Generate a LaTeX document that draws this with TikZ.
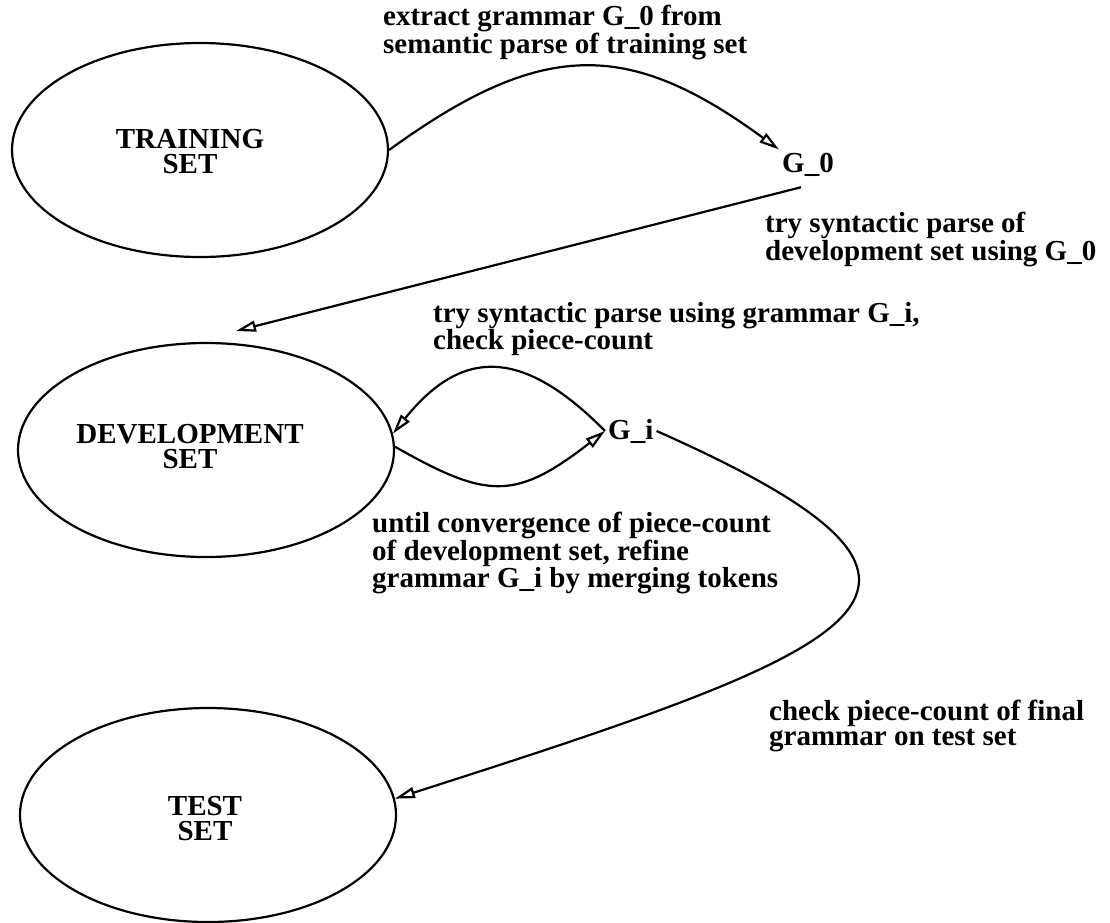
\documentclass[tikz,border=0pt]{standalone}
\usepackage{fontspec}
\setmainfont{Liberation Serif}
\usetikzlibrary{shapes.geometric,arrows.meta}
\begin{document}
\begin{tikzpicture}[x=1pt,y=-1pt,
  every node/.style={font=\fontsize{29}{25}\selectfont\bfseries},
  setnode/.style={ellipse, draw, line width=2.2pt, minimum width=376pt, minimum height=214pt, inner sep=0pt},
  setname/.style={align=center, anchor=north, inner sep=0pt},
  caption/.style={align=left, anchor=north west, inner sep=0pt},
  gram/.style={inner sep=3pt, anchor=base west},
  link/.style={line width=2.2pt, -{Triangle[open, length=20pt, width=11pt]}}
]
\useasboundingbox (0,0) rectangle (1110,922);

% the three data sets
\node[setnode] (train) at (200,150) {};
\node[setname] (trainname) at (190,129) {TRAINING\\SET};
\node[setnode] (dev) at (206,450) {};
\node[setname] (devname) at (190,424) {DEVELOPMENT\\SET};
\node[setnode] (test) at (208,815) {};
\node[setname] (testname) at (205,796) {TEST\\SET};

% grammars
\node[gram] (g0) at (779,172) {G\_0};
\node[gram] (gi) at (605,439) {G\_i};

% edge labels
\node[caption] (lblextract) at (383,5) {extract grammar G\_0 from\\semantic parse of training set};
\node[caption] (lbltry) at (765,212) {try syntactic parse of\\development set using G\_0};
\node[caption] (lblcheck) at (433,302) {try syntactic parse using grammar G\_i,\\check piece-count};
\node[caption] (lblrefine) at (372,512) {until convergence of piece-count\\of development set, refine\\grammar G\_i by merging tokens};
\node[caption] (lblfinal) at (769,700) {check piece-count of final\\grammar on test set};

% connectors
\coordinate (g0out) at ([xshift=-7pt,yshift=-8pt]g0.south);
\coordinate (devin) at (236,331);
\draw[link] (train.east) .. controls (542,39) and (628,39) .. (g0.north west);
\draw[link] (g0out) -- (devin);
\draw[link] (gi.west) .. controls (520,345) and (460,350) .. (dev.5);
\draw[link] (dev.1) .. controls (487,499) and (515,501) .. (gi.west);
\draw[link] (gi.east) .. controls (1015,590) and (875,645) .. (test.5);
\end{tikzpicture}
\end{document}
